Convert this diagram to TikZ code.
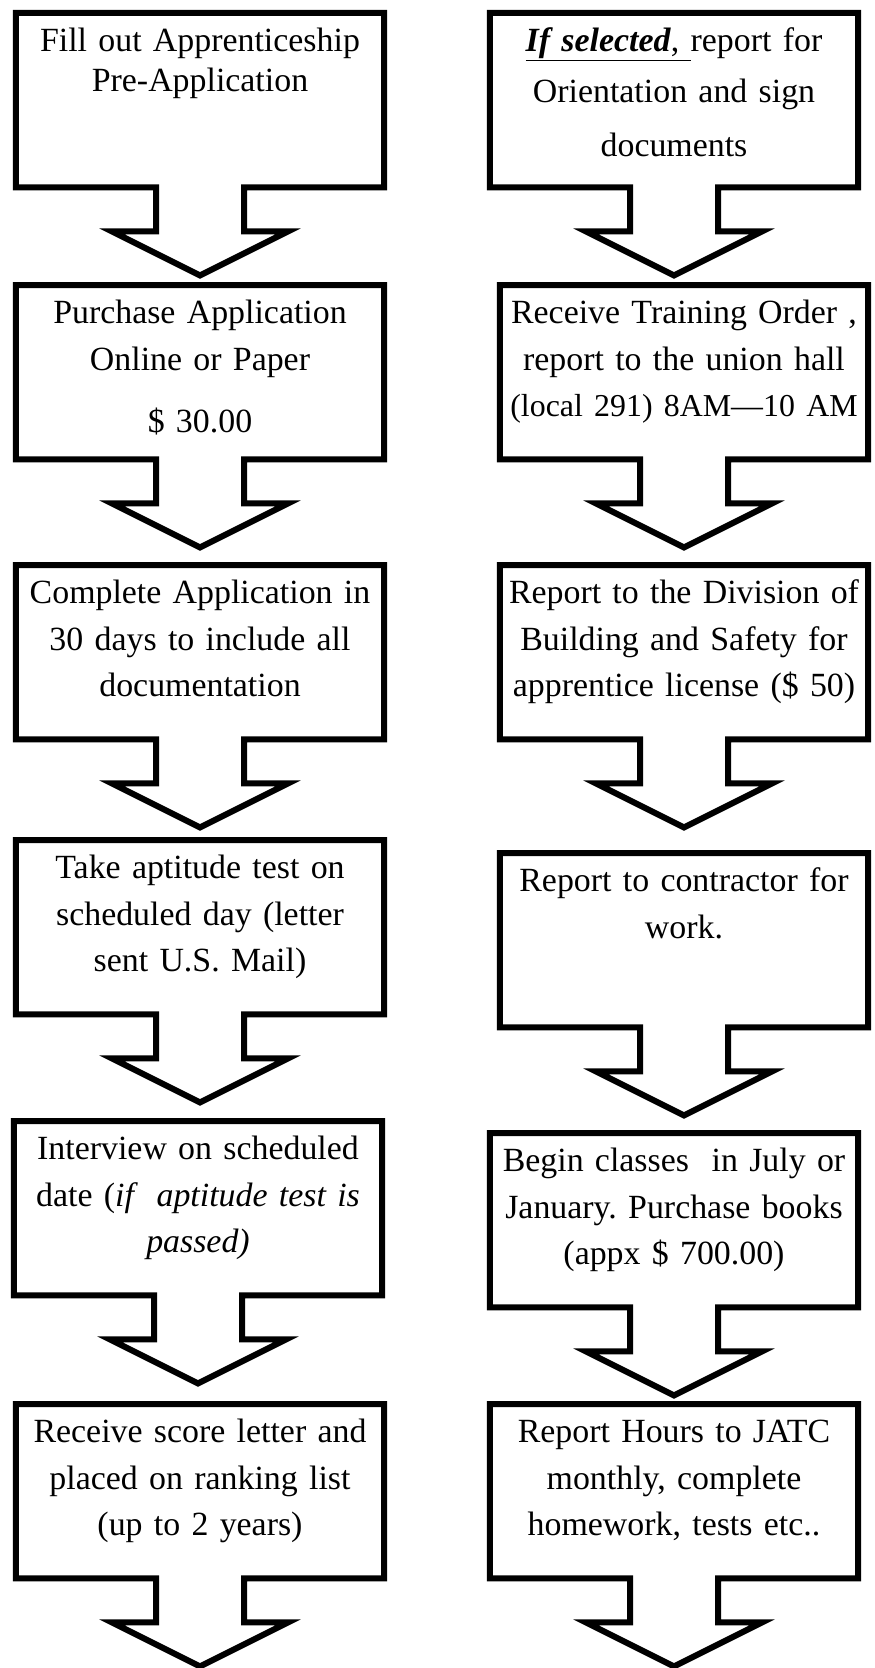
\documentclass[tikz,border=0pt]{standalone}
\usepackage{fontspec}
\setmainfont{Liberation Serif}
\frenchspacing
\usetikzlibrary{calc}

\tikzset{
  stepbox/.style={shape=rectangle, anchor=north, inner sep=0pt,
    minimum width=368bp, text width=360bp, align=center,
    text height=38bp, text depth=136bp,
    font=\fontsize{34}{47}\selectfont},
  outline/.style={line width=6bp, line join=miter},
}

\begin{document}
\begin{tikzpicture}[x=1bp,y=-1bp]
	 \useasboundingbox (0,0) rectangle (874,1668);
	 %Left column
	 \node[stepbox, font=\fontsize{34}{40}\selectfont] (l1) at (200,13) {Fill out Apprenticeship\\Pre-Application};
	 \node[stepbox] (l2) at (200,285) {Purchase Application\\Online or Paper\\[16bp]\$ 30.00};
	 \node[stepbox] (l3) at (200,565) {Complete Application in\\30 days to include all\\documentation};
	 \node[stepbox] (l4) at (200,840) {Take aptitude test on\\scheduled day (letter\\sent U.S. Mail)};
	 \node[stepbox] (l5) at (198,1121) {Interview on scheduled\\date (\textit{if\ \ aptitude test is}\\\textit{passed)}};
	 \node[stepbox] (l6) at (200,1404) {Receive score letter and\\placed on ranking list\\(up to 2 years)};
	 
	 %Right column
	 \node[stepbox, font=\fontsize{34}{51}\selectfont] (r1) at (674,13) {\underline{\textbf{\textit{If selected}}, }report for\\Orientation and sign\\[4bp]documents};
	 \node[stepbox] (r2) at (684,285) {Receive Training Order ,\\report to the union hall\\{\fontsize{32}{47}\selectfont (local 291) 8AM---10 AM}};
	 \node[stepbox] (r3) at (684,565) {Report to the Division of\\Building and Safety for\\apprentice license (\$ 50)};
	 \node[stepbox] (r4) at (684,853) {Report to contractor for\\work.};
	 \node[stepbox] (r5) at (674,1133) {Begin classes\ \ in July or\\January. Purchase books\\(appx \$ 700.00)};
	 \node[stepbox] (r6) at (674,1404) {Report Hours to JATC\\monthly, complete\\homework, tests etc..};
	 
	 %box with arrow below
	 \foreach \n in {l1,l2,l3,l4,l5,l6,r1,r2,r3,r4,r5,r6}
	   \draw[outline] (\n.north west) -- (\n.north east) -- (\n.south east)
	     -- ($(\n.south)+(44,0)$) -- ++(0,44) -- ++(44,0)
	     -- ($(\n.south)+(0,88)$)
	     -- ($(\n.south)+(-88,44)$) -- ++(44,0) -- ++(0,-44)
	     -- (\n.south west) -- cycle;
\end{tikzpicture}
\end{document}
